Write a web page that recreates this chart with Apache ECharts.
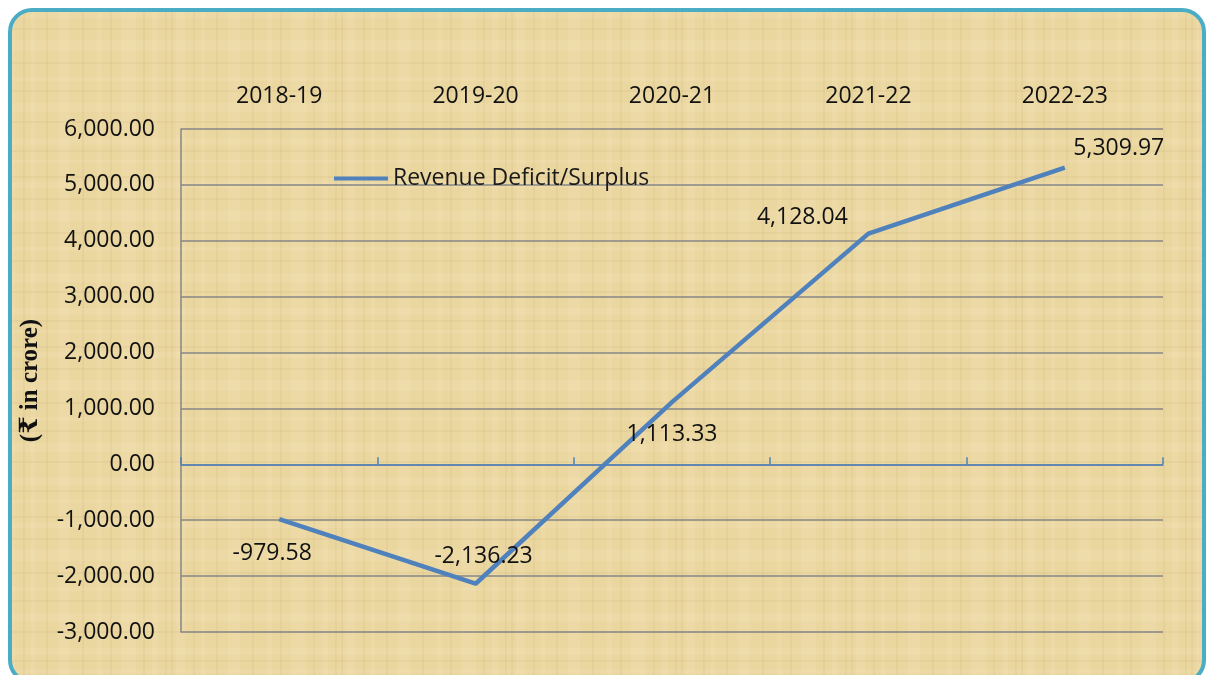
<!DOCTYPE html>
<html>
<head>
<meta charset="utf-8">
<script src="https://cdn.jsdelivr.net/npm/echarts@6/dist/echarts.min.js"></script>
<style>
  html, body { margin: 0; padding: 0; background: #fff; }
  #chart { width: 1206px; height: 675px; }
</style>
</head>
<body>
<div id="chart"></div>
<script>
// data
const years = ['2018-19', '2019-20', '2020-21', '2021-22', '2022-23'];
const revenueSurplus = [-979.58, -2136.23, 1113.33, 4128.04, 5309.97];
// where each value label sits relative to its point
const labelOffsets = [[-7, 34], [8, -27], [0, 32], [-66, -16], [54, -19]];

const myChart = echarts.init(document.getElementById('chart'));

const fmt = function (v) {
  return Number(v).toLocaleString('en-US', { minimumFractionDigits: 2, maximumFractionDigits: 2 });
};

const textFont = "'Open Sans', sans-serif";

// faint woven texture for the parchment background
function paperPattern() {
  const s = 170;
  const c = document.createElement('canvas');
  c.width = s;
  c.height = s;
  const ctx = c.getContext('2d');
  ctx.fillStyle = '#ead69f';
  ctx.fillRect(0, 0, s, s);
  // lighter fibres: [position, width]
  const lightV = [[6, 9], [31, 4], [58, 12], [97, 5], [121, 15], [152, 6]];
  const lightH = [[12, 6], [40, 11], [77, 4], [103, 9], [138, 7], [160, 3]];
  ctx.fillStyle = 'rgba(250,238,200,0.16)';
  lightV.forEach(function (f) { ctx.fillRect(f[0], 0, f[1], s); });
  lightH.forEach(function (f) { ctx.fillRect(0, f[0], s, f[1]); });
  // darker fibres
  const darkV = [2, 24, 47, 83, 111, 144, 166];
  const darkH = [7, 29, 63, 91, 122, 151];
  ctx.strokeStyle = 'rgba(180,145,75,0.09)';
  ctx.lineWidth = 1.5;
  darkV.forEach(function (p) {
    ctx.beginPath(); ctx.moveTo(p, 0); ctx.lineTo(p, s); ctx.stroke();
  });
  darkH.forEach(function (p) {
    ctx.beginPath(); ctx.moveTo(0, p); ctx.lineTo(s, p); ctx.stroke();
  });
  return c;
}

const option = {
  backgroundColor: '#ffffff',
  animation: false,
  graphic: [
    {
      type: 'rect',
      silent: true,
      z: -10,
      shape: { x: 10, y: 10, width: 1194, height: 672, r: 22 },
      style: {
        fill: { image: paperPattern(), repeat: 'repeat' },
        stroke: '#4bacc6',
        lineWidth: 4
      }
    }
  ],
  grid: { left: 181, right: 43, top: 129, bottom: 43 },
  legend: {
    left: 329,
    top: 162,
    itemWidth: 54,
    itemHeight: 4,
    itemGap: 4,
    icon: 'rect',
    textStyle: { fontFamily: textFont, fontSize: 23, color: '#1a1a1a' },
    data: ['Revenue Deficit/Surplus']
  },
  xAxis: [
    {
      type: 'category',
      data: years,
      position: 'top',
      axisLine: { show: false, onZero: false },
      axisTick: { show: false },
      axisLabel: { margin: 21, fontFamily: textFont, fontSize: 23, color: '#111' }
    },
    {
      type: 'category',
      data: years,
      position: 'bottom',
      axisLine: { onZero: true, lineStyle: { color: '#4f81bd', width: 1.5 } },
      axisTick: { show: true, inside: true, length: 7, lineStyle: { color: '#4f81bd', width: 1.5 } },
      axisLabel: { show: false }
    }
  ],
  yAxis: {
    type: 'value',
    min: -3000,
    max: 6000,
    interval: 1000,
    name: '(₹ in crore)',
    nameLocation: 'middle',
    nameGap: 138,
    nameTextStyle: {
      fontFamily: "'Liberation Serif', 'DejaVu Serif', serif",
      fontWeight: 'bold',
      fontSize: 25,
      color: '#111'
    },
    axisLine: { show: true, onZero: false, lineStyle: { color: '#868686', width: 1.5 } },
    axisTick: { show: false },
    splitLine: { lineStyle: { color: '#868686', width: 1.5 } },
    axisLabel: {
      margin: 26,
      fontFamily: textFont,
      fontSize: 23,
      color: '#111',
      formatter: fmt
    }
  },
  series: [
    {
      name: 'Revenue Deficit/Surplus',
      type: 'line',
      xAxisIndex: 1,
      data: revenueSurplus.map(function (v, i) {
        return { value: v, label: { offset: labelOffsets[i] } };
      }),
      showSymbol: true,
      symbol: 'circle',
      symbolSize: 0.1,
      color: '#4f81bd',
      lineStyle: { color: '#4f81bd', width: 4.5 },
      label: {
        show: true,
        position: 'inside',
        fontFamily: textFont,
        fontSize: 23,
        color: '#111',
        formatter: function (p) { return fmt(p.value); }
      }
    }
  ]
};

myChart.setOption(option);
</script>
</body>
</html>
